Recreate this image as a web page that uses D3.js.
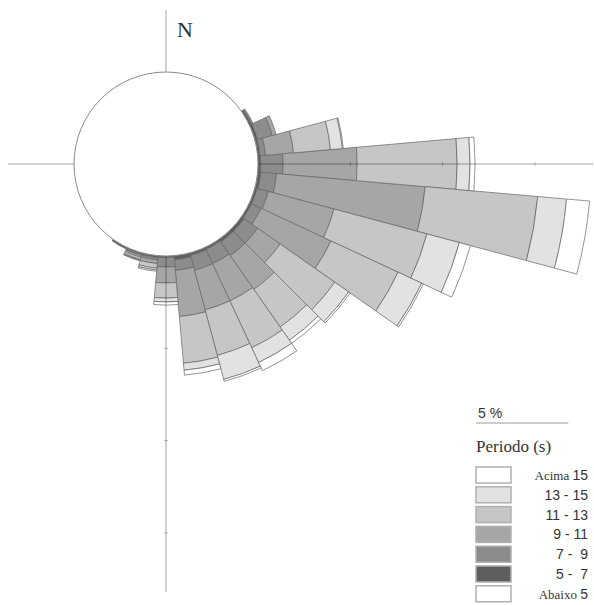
<!DOCTYPE html>
<html>
<head>
<meta charset="utf-8">
<script src="https://cdn.jsdelivr.net/npm/d3@7"></script>
<style>
  body { margin: 0; background: #fff; }
  svg { display: block; }
</style>
</head>
<body>
<svg id="chart" width="594" height="605"></svg>
<script>
// direction sectors (degrees from north, clockwise)
var directions = [0, 10, 20, 30, 40, 50, 60, 70, 80, 90, 100, 110, 120, 130, 140, 150, 160, 170,
                  180, 190, 200, 210, 220, 230, 240, 250, 260, 270, 280, 290, 300, 310, 320, 330, 340, 350];

// frequency (%) by period class, inner to outer
var abaixo5 = [0, 0, 0, 0, 0, 0, 0.02, 0.03, 0.03, 0.03, 0.03, 0.03, 0.03, 0.03, 0.03, 0.03, 0.03, 0.03,
               0.03, 0.03, 0.02, 0.02, 0, 0, 0, 0, 0, 0, 0, 0, 0, 0, 0, 0, 0, 0];
var p5_7    = [0, 0, 0, 0, 0, 0, 0.10, 0.12, 0.10, 0.12, 0.15, 0.10, 0.10, 0.15, 0.15, 0.10, 0.12, 0.20,
               0.06, 0.08, 0.05, 0.03, 0, 0, 0, 0, 0, 0, 0, 0, 0, 0, 0, 0, 0, 0];
var p7_9    = [0, 0, 0, 0, 0, 0, 0.10, 0.83, 0.30, 1.21, 0.85, 0.63, 0.57, 0.90, 0.90, 0.85, 0.83, 0.57,
               0.51, 0.12, 0.08, 0.03, 0, 0, 0, 0, 0, 0, 0, 0, 0, 0, 0, 0, 0, 0];
var p9_11   = [0, 0, 0, 0, 0, 0, 0, 0.21, 1.52, 4.01, 8.08, 3.68, 4.18, 1.49, 2.23, 2.22, 2.22, 2.51,
               0.86, 0.20, 0.10, 0.02, 0, 0, 0, 0, 0, 0, 0, 0, 0, 0, 0, 0, 0, 0];
var p11_13  = [0, 0, 0, 0, 0, 0, 0, 0, 2.01, 5.42, 6.12, 5.21, 4.01, 3.61, 2.49, 2.80, 2.55, 2.54,
               0.82, 0.25, 0.12, 0, 0, 0, 0, 0, 0, 0, 0, 0, 0, 0, 0, 0, 0, 0];
var p13_15  = [0, 0, 0, 0, 0, 0, 0, 0, 0.65, 0.70, 1.57, 1.82, 1.41, 0.92, 0.87, 0.88, 1.35, 0.38,
               0.21, 0.10, 0.05, 0, 0, 0, 0, 0, 0, 0, 0, 0, 0, 0, 0, 0, 0, 0];
var acima15 = [0, 0, 0, 0, 0, 0, 0, 0, 0.05, 0.27, 1.25, 0.62, 0.10, 0.10, 0.21, 0.49, 0.11, 0.27,
               0.17, 0.07, 0.03, 0, 0, 0, 0, 0, 0, 0, 0, 0, 0, 0, 0, 0, 0, 0];

var binKeys   = ["abaixo5", "p5_7", "p7_9", "p9_11", "p11_13", "p13_15", "acima15"];
var binLabels = ["Abaixo 5", "5 -  7", "7 -  9", "9 - 11", "11 - 13", "13 - 15", "Acima 15"];
var binColors = ["#ffffff", "#5e5e5e", "#8c8c8c", "#a6a6a6", "#c6c6c6", "#e2e2e2", "#ffffff"];
var axisTicks = [5, 10, 15];
var scaleStep = 5; // legend scale bar, %

var series = { abaixo5: abaixo5, p5_7: p5_7, p7_9: p7_9, p9_11: p9_11, p11_13: p11_13, p13_15: p13_15, acima15: acima15 };
var table = directions.map(function (dir, i) {
  var row = { dir: dir };
  binKeys.forEach(function (k) { row[k] = series[k][i]; });
  return row;
});

var svg = d3.select("#chart");
var cx = 166, cy = 164;
var calmRadius = 92;

var r = d3.scaleLinear().domain([0, 5]).range([calmRadius, calmRadius + 92.3]);
var color = d3.scaleOrdinal().domain(binKeys).range(binColors);
var sectorWidth = 2 * Math.PI / directions.length;

var stacked = d3.stack().keys(binKeys)(table);

var arc = d3.arc()
  .innerRadius(function (d) { return r(d[0]); })
  .outerRadius(function (d) { return r(d[1]); })
  .startAngle(function (d) { return d.data.dir * Math.PI / 180 - sectorWidth / 2; })
  .endAngle(function (d) { return d.data.dir * Math.PI / 180 + sectorWidth / 2; });

var g = svg.append("g").attr("transform", "translate(" + cx + "," + cy + ")");

g.selectAll("g.layer")
  .data(stacked)
  .enter().append("g")
  .attr("class", "layer")
  .attr("fill", function (d) { return color(d.key); })
  .selectAll("path")
  .data(function (d) { return d.filter(function (s) { return s[1] - s[0] > 0; }); })
  .enter().append("path")
  .attr("d", arc)
  .attr("stroke", "#666")
  .attr("stroke-width", 0.7);

// axis lines (drawn over the bars, semi transparent)
var axisColor = "rgba(0,0,0,0.18)";
g.append("line").attr("x1", -158).attr("y1", 0).attr("x2", 427).attr("y2", 0)
  .attr("stroke", axisColor).attr("stroke-width", 2);
g.append("line").attr("x1", 0).attr("y1", -154).attr("x2", 0).attr("y2", 428)
  .attr("stroke", axisColor).attr("stroke-width", 2);

axisTicks.forEach(function (t) {
  g.append("line").attr("x1", r(t)).attr("x2", r(t)).attr("y1", -2).attr("y2", 2)
    .attr("stroke", "rgba(0,0,0,0.25)").attr("stroke-width", 1);
  g.append("line").attr("y1", r(t)).attr("y2", r(t)).attr("x1", -2).attr("x2", 2)
    .attr("stroke", "rgba(0,0,0,0.25)").attr("stroke-width", 1);
});

// calm circle
g.append("circle").attr("r", calmRadius)
  .attr("fill", "#fff").attr("stroke", "#8a8a8a").attr("stroke-width", 1);

svg.append("text").attr("x", 177).attr("y", 37)
  .attr("font-family", "Liberation Serif, serif").attr("font-size", 22).attr("fill", "#333")
  .text("N");

// legend
var lx = 476;
svg.append("text").attr("x", lx + 2).attr("y", 418)
  .attr("font-family", "Liberation Sans, Arial, sans-serif").attr("font-size", 14).attr("fill", "#333")
  .text(scaleStep + " %");
svg.append("line").attr("x1", lx).attr("x2", lx + r(scaleStep) - r(0)).attr("y1", 423).attr("y2", 423)
  .attr("stroke", "#999").attr("stroke-width", 1.2);
svg.append("text").attr("x", lx).attr("y", 452)
  .attr("font-family", "Liberation Serif, serif").attr("font-size", 17).attr("fill", "#333")
  .text("Periodo (s)");

var legendRows = binKeys.slice().reverse();
var leg = svg.append("g").selectAll("g")
  .data(legendRows)
  .enter().append("g")
  .attr("transform", function (d, i) { return "translate(" + lx + "," + (467 + i * 19.8) + ")"; });

leg.append("rect").attr("width", 35).attr("height", 16)
  .attr("fill", function (d) { return color(d); })
  .attr("stroke", "#b0b0b0").attr("stroke-width", 1.5);

leg.append("text")
  .attr("x", 112).attr("y", 13)
  .attr("text-anchor", "end")
  .attr("fill", "#333")
  .style("white-space", "pre")
  .each(function (d) {
    var label = binLabels[binKeys.indexOf(d)];
    var t = d3.select(this);
    var m = label.match(/^(Acima|Abaixo) (\d+)$/);
    if (m) {
      t.append("tspan").attr("font-family", "Liberation Serif, serif").attr("font-size", 13).text(m[1] + " ");
      t.append("tspan").attr("font-family", "Liberation Sans, Arial, sans-serif").attr("font-size", 14).text(m[2]);
    } else {
      t.attr("font-family", "Liberation Sans, Arial, sans-serif").attr("font-size", 14).text(label);
    }
  });
</script>
</body>
</html>
